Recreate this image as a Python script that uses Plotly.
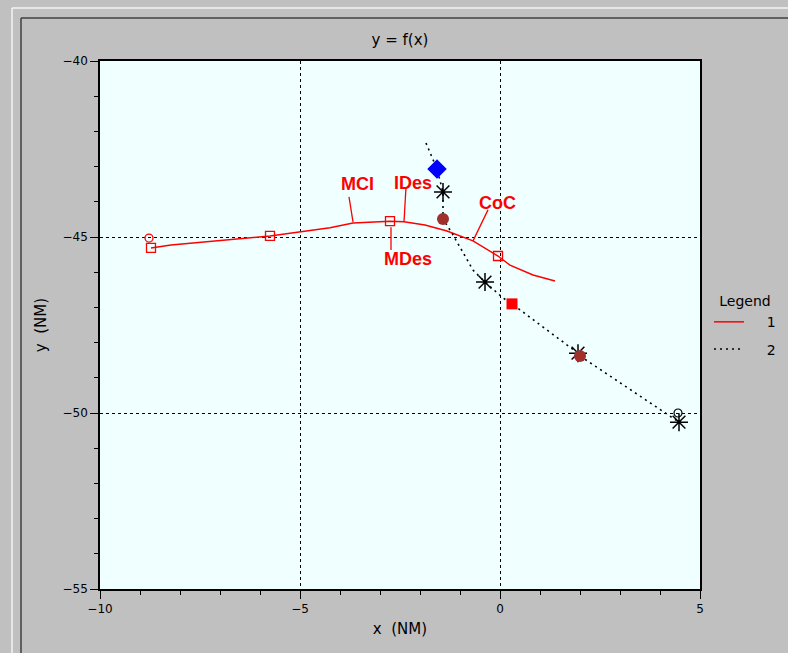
import plotly.graph_objects as go

# ---- data ----
s1_x = [-8.725, -8.225, -5.75, -4.25, -3.675, -2.75, -2.4, -1.875, -1.325, -0.675, -0.05, 0.25, 0.825, 1.375]
s1_y = [-45.31, -45.23, -44.97, -44.74, -44.60, -44.55, -44.57, -44.66, -44.83, -45.11, -45.54, -45.80, -46.08, -46.25]

s2_x = [-1.85, -1.575, -1.425, -1.425, -1.2, -1.0, -0.675, -0.375, 0.075, 0.3, 1.95, 2.0, 4.475]
s2_y = [-42.33, -43.07, -43.72, -44.49, -44.89, -45.28, -45.94, -46.28, -46.73, -46.90, -48.30, -48.38, -50.26]

sq_open_x = [-8.725, -5.75, -2.75, -0.05]
sq_open_y = [-45.31, -44.97, -44.55, -45.54]
circ_open_red_x = [-8.775]
circ_open_red_y = [-45.03]

asterisk_x = [-1.425, -0.375, 1.95, 4.475]
asterisk_y = [-43.72, -46.28, -48.30, -50.26]
diamond_x = [-1.575]
diamond_y = [-43.07]
brown_x = [-1.425, 2.0]
brown_y = [-44.49, -48.38]
red_sq_x = [0.3]
red_sq_y = [-46.90]
circ_open_blk_x = [4.45]
circ_open_blk_y = [-50.0]

labels = ["MCI", "IDes", "MDes", "CoC"]
label_x = [-3.575, -2.175, -2.30, -0.075]
label_y = [-43.49, -43.47, -45.62, -44.03]
lead_x0 = [-3.775, -2.35, -2.725, -0.30]
lead_y0 = [-43.86, -43.58, -44.72, -44.23]
lead_x1 = [-3.675, -2.40, -2.725, -0.675]
lead_y1 = [-44.57, -44.57, -45.37, -45.11]

x_range = [-10, 5]
y_range = [-55, -40]

fig = go.Figure()

# leader lines
for i in range(len(labels)):
    fig.add_trace(go.Scatter(x=[lead_x0[i], lead_x1[i]], y=[lead_y0[i], lead_y1[i]],
                             mode="lines", line=dict(color="red", width=1.3),
                             showlegend=False, hoverinfo="skip"))

fig.add_trace(go.Scatter(x=s1_x, y=s1_y, mode="lines", name="\u00a0\u00a0\u00a0\u00a01",
                         legendgroup="g1", line=dict(color="red", width=1.5)))
fig.add_trace(go.Scatter(x=s2_x, y=s2_y, mode="lines", name="\u00a0\u00a0\u00a0\u00a02",
                         legendgroup="g2", line=dict(color="black", width=1.6, dash="2px,4px")))

fig.add_trace(go.Scatter(x=sq_open_x, y=sq_open_y, mode="markers", showlegend=False,
                         marker=dict(symbol="square-open", size=9, color="red", line=dict(width=1.3))))
fig.add_trace(go.Scatter(x=circ_open_red_x, y=circ_open_red_y, mode="markers", showlegend=False,
                         marker=dict(symbol="circle-open", size=8, color="red", line=dict(width=1.3))))
fig.add_trace(go.Scatter(x=asterisk_x, y=asterisk_y, mode="markers", showlegend=False,
                         marker=dict(symbol="asterisk-open", size=15, color="black", line=dict(width=1.5, color="black"))))
fig.add_trace(go.Scatter(x=diamond_x, y=diamond_y, mode="markers", showlegend=False,
                         marker=dict(symbol="diamond", size=15, color="#0000ff")))
fig.add_trace(go.Scatter(x=brown_x, y=brown_y, mode="markers", showlegend=False,
                         marker=dict(symbol="circle", size=12, color="#a0302c")))
fig.add_trace(go.Scatter(x=red_sq_x, y=red_sq_y, mode="markers", showlegend=False,
                         marker=dict(symbol="square", size=11, color="red")))
fig.add_trace(go.Scatter(x=circ_open_blk_x, y=circ_open_blk_y, mode="markers", showlegend=False,
                         marker=dict(symbol="circle-open", size=8, color="black", line=dict(width=1.2))))

for i, t in enumerate(labels):
    fig.add_annotation(x=label_x[i], y=label_y[i], text="<b>%s</b>" % t, showarrow=False,
                       font=dict(family="Liberation Sans, Arial", size=18, color="red"))

axis_common = dict(
    showline=True, linecolor="black", linewidth=1.5, mirror=True,
    ticks="outside", ticklen=8, tickwidth=1.2, tickcolor="black",
    showgrid=True, gridcolor="black", gridwidth=1, griddash="dot",
    zeroline=False, dtick=5,
    minor=dict(dtick=1, ticks="outside", ticklen=4, tickcolor="black", tickwidth=1.2, showgrid=False),
    tickfont=dict(family="DejaVu Sans, Liberation Sans", size=12, color="black"),
)

fig.update_xaxes(range=x_range, tick0=-10,
                 title=dict(text="x\u00a0\u00a0(NM)", standoff=8,
                            font=dict(family="DejaVu Sans, Liberation Sans", size=15, color="black")),
                 **axis_common)
fig.update_yaxes(range=y_range, tick0=-55,
                 title=dict(text="y\u00a0\u00a0(NM)", standoff=12,
                            font=dict(family="DejaVu Sans, Liberation Sans", size=15, color="black")),
                 **axis_common)

# window frame decorations
def px2paper_x(px):
    return (px - 100) / 600.0

def px2paper_y(py):
    return (589 - py) / 528.0

frame_shapes = [
    dict(x0=12, y0=8, x1=12, y1=653, color="#f4f4f4"),
    dict(x0=12, y0=8, x1=788, y1=8, color="#f4f4f4"),
    dict(x0=21, y0=18, x1=21, y1=653, color="#404040"),
    dict(x0=21, y0=18, x1=788, y1=18, color="#404040"),
]
for s in frame_shapes:
    fig.add_shape(type="line", xref="paper", yref="paper",
                  x0=px2paper_x(s["x0"]), y0=px2paper_y(s["y0"]),
                  x1=px2paper_x(s["x1"]), y1=px2paper_y(s["y1"]),
                  line=dict(color=s["color"], width=1.5))

fig.update_layout(
    width=788, height=653,
    margin=dict(l=100, r=88, t=61, b=64, autoexpand=False),
    paper_bgcolor="#c0c0c0",
    plot_bgcolor="#f0ffff",
    title=dict(text="y\u00a0=\u00a0f(x)", x=0.5, xref="paper", y=1 - 40 / 653.0, yanchor="middle",
               font=dict(family="DejaVu Sans, Liberation Sans", size=15, color="black")),
    legend=dict(x=1.015, xanchor="left", y=0.57, yanchor="top",
                bgcolor="rgba(0,0,0,0)",
                tracegroupgap=6,
                title=dict(text="Legend", side="top center",
                           font=dict(family="DejaVu Sans, Liberation Sans", size=14, color="black")),
                font=dict(family="DejaVu Sans, Liberation Sans", size=14, color="black"),
                itemwidth=30),
    showlegend=True,
)

fig.write_html("out.html",
               config={"displayModeBar": False},
               post_script="document.body.style.margin='0px';document.body.style.overflow='hidden';"
                           "document.body.style.background='#c0c0c0';")
